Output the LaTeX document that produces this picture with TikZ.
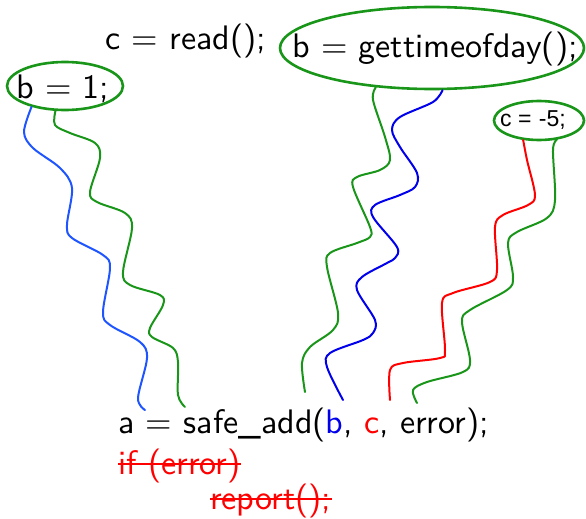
\documentclass[tikz,border=0pt]{standalone}
\usepackage{fontspec}
\usetikzlibrary{shapes.geometric}
\newfontfamily\helv{Liberation Sans}
\newfontfamily\lms{lmsans10-regular.otf}
\definecolor{gr}{RGB}{25,150,25}
\definecolor{blL}{RGB}{30,85,255}
\definecolor{blM}{RGB}{0,0,235}
\definecolor{rd}{RGB}{255,0,0}
\begin{document}
\begin{tikzpicture}[x=1pt,y=-1pt,
  txt/.style={font=\lms\fontsize{34}{40}\selectfont, anchor=base west, inner sep=0pt},
  oval/.style={ellipse, draw=gr, line width=2.6pt, inner sep=0pt},
  wire/.style={line width=2pt, line cap=round, line join=round},
  strike/.style={rd, line width=1.8pt}]
\useasboundingbox (0,0) rectangle (586,519);

% ellipses
\node[oval, minimum width=116pt, minimum height=48pt] (b1) at (65,86) {};
\node[oval, minimum width=304pt, minimum height=82pt] (g) at (432,48) {};
\node[oval, minimum width=90pt, minimum height=39pt] (c5) at (539,120.5) {};

% texts
\node[txt] (cread) at (105,50) {c = read();};
\node[txt] (b1t) at (16,98) {b = 1;};
\node[txt] (gtt) at (292,57) {b = gettimeofday();};
\node[font=\helv\fontsize{23}{27}\selectfont, anchor=base west, inner sep=0pt] (c5t) at (500,126.5) {c = \hspace{1pt}-5;};
\node[txt] (main) at (118,433) {a = safe\_add(\textcolor{blM}{b}, \textcolor{rd}{c}, error);};
\node[txt, text=rd] (ift) at (118,474) {if (error)};
\node[txt, text=rd] (rep) at (210,509) {report();};
\draw[strike] ([yshift=10pt]ift.base west) -- ([yshift=10pt]ift.base east);
\draw[strike] ([yshift=10pt]rep.base west) -- ([yshift=10pt]rep.base east);

% wire ends
\coordinate (e1) at (145,410);
\coordinate (e2) at (185,407);
\coordinate (e3) at (305,392);
\coordinate (e4) at (343,400);
\coordinate (e5) at (390,400);
\coordinate (e6) at (417,403);

% wavy wires
\draw[wire, blL] plot[smooth, tension=0.55] coordinates {(b1.212) (24,132) (33,148) (60,168) (72,188) (67,225) (72,238) (103,255) (110,268) (103,312) (110,325) (140,342) (147,358) (138,398) (e1)};
\draw[wire, gr] plot[smooth, tension=0.55] coordinates {(b1.249) (55,125) (70,133) (95,143) (100,158) (90,192) (97,202) (125,213) (132,228) (123,272) (130,285) (160,295) (163,305) (150,328) (152,337) (173,348) (178,362) (178,395) (e2)};
\draw[wire, gr] plot[smooth, tension=0.55] coordinates {(g.215) (373,100) (385,137) (390,160) (380,170) (357,177) (353,187) (370,227) (370,237) (357,243) (330,253) (327,267) (338,313) (333,330) (310,347) (302,363) (e3)};
\draw[wire, blM] plot[smooth, tension=0.55] coordinates {(g.284) (433,102) (400,117) (392,130) (400,147) (417,173) (415,187) (400,195) (375,205) (373,217) (397,247) (395,258) (387,263) (362,277) (357,290) (375,320) (373,333) (363,340) (330,353) (327,367) (e4)};
\draw[wire, rd] plot[smooth, tension=0.55] coordinates {(c5.231) (527,160) (535,195) (528,205) (503,215) (495,227) (497,270) (490,282) (453,293) (442,303) (445,350) (440,358) (403,363) (390,370) (e5)};
\draw[wire, gr] plot[smooth, tension=0.55] coordinates {(c5.313) (553,150) (555,200) (547,218) (517,232) (508,243) (513,277) (507,290) (470,310) (462,322) (470,360) (463,372) (427,382) (413,390) (e6)};
\end{tikzpicture}
\end{document}
